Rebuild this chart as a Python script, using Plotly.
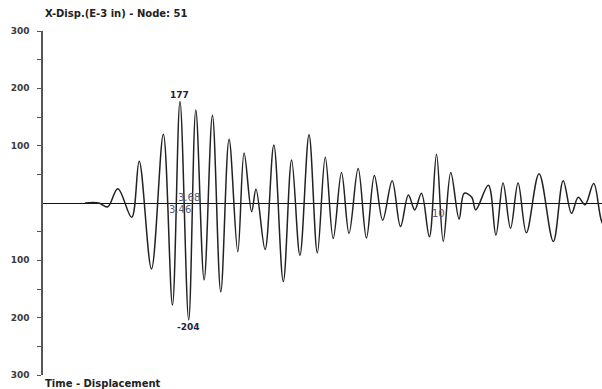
import plotly.graph_objects as go

# Displacement time history, node 51 (time in s, displacement in E-3 in)
time_s = [1.06, 1.41, 1.63, 1.89, 2.24, 2.43, 2.74, 3.04, 3.27, 3.46, 3.68,
          3.86, 4.07, 4.28, 4.49, 4.70, 4.92, 5.08, 5.27, 5.38, 5.61, 5.83,
          6.07, 6.28, 6.49, 6.72, 6.93, 7.13, 7.33, 7.54, 7.73, 7.96, 8.17,
          8.37, 8.58, 8.82, 9.03, 9.23, 9.39, 9.56, 9.76, 9.94, 10.11, 10.30,
          10.51, 10.64, 10.83, 10.93, 11.25, 11.44, 11.62, 11.81, 12.00,
          12.21, 12.53, 12.89, 13.14, 13.35, 13.52, 13.69, 13.91, 14.12, 14.25]
disp = [0, 0, -7, 25, -25, 73, -115, 120, -178, 177, -204,
        162, -134, 153, -155, 111, -85, 87, -15, 24, -81, 101,
        -137, 75, -91, 119, -87, 80, -62, 53, -53, 60, -61,
        48, -30, 39, -41, 14, -12, 17, -59, 85, -67, 53,
        -28, 17, 10, -12, 31, -56, 35, -44, 35,
        -52, 51, -67, 39, -18, 10, -3, 34, -34, -45]

y_ticks = [-300, -250, -200, -150, -100, -50, 50, 100, 150, 200, 250, 300]
y_labels = ["300", "", "200", "", "100", "", "", "100", "", "200", "", "300"]

t_max, v_max = 3.46, 177
t_min, v_min = 3.68, -204
t_mark = 10

fig = go.Figure()
fig.add_trace(go.Scatter(
    x=time_s, y=disp, mode="lines",
    line=dict(color="#222222", width=1.5, shape="spline", smoothing=1.0),
    hoverinfo="skip", showlegend=False,
))

bold = dict(family="DejaVu Sans", size=9, color="#3a3a3a", weight="bold")

fig.update_layout(
    width=602, height=389,
    margin=dict(l=43, r=0, t=31, b=14),
    paper_bgcolor="white", plot_bgcolor="white",
    xaxis=dict(range=[0, 14.12], visible=False, fixedrange=True),
    yaxis=dict(
        range=[-300, 300], showgrid=False,
        showline=True, linecolor="#555555", linewidth=1.5,
        ticks="outside", ticklen=4, tickwidth=1, tickcolor="#555555",
        tickvals=y_ticks, ticktext=y_labels, tickfont=bold,
        ticklabelstandoff=6,
        zeroline=True, zerolinecolor="#111111", zerolinewidth=1,
        fixedrange=True,
    ),
    annotations=[
        dict(text="X-Disp.(E-3 in) - Node: 51", xref="paper", yref="paper",
             x=0, y=1.052, xanchor="left", yanchor="middle", showarrow=False,
             font=dict(family="DejaVu Sans", size=10, color="#222222", weight="bold")),
        dict(text="Time - Displacement", xref="paper", yref="paper",
             x=0, y=-0.026, xanchor="left", yanchor="middle", showarrow=False,
             font=dict(family="DejaVu Sans", size=10, color="#222222", weight="bold")),
        dict(text=str(v_max), x=t_max, y=v_max, xanchor="center", yanchor="bottom",
             showarrow=False, yshift=0,
             font=dict(family="DejaVu Sans", size=9, color="#222233", weight="bold")),
        dict(text=str(v_min), x=t_min, y=v_min, xanchor="center", yanchor="top",
             showarrow=False, yshift=0,
             font=dict(family="DejaVu Sans", size=9, color="#222244", weight="bold")),
        dict(text=f"{t_min:.2f}", x=t_min, y=0, xanchor="center", yanchor="bottom",
             showarrow=False, yshift=-2,
             font=dict(family="DejaVu Sans", size=10, color="#50607a")),
        dict(text=f"{t_max:.2f}", x=t_max, y=0, xanchor="center", yanchor="top",
             showarrow=False, yshift=1,
             font=dict(family="DejaVu Sans", size=10, color="#50607a")),
        dict(text=str(t_mark), x=t_mark, y=0, xanchor="center", yanchor="top",
             showarrow=False, yshift=-3,
             font=dict(family="DejaVu Sans", size=10, color="#5b4f8f")),
    ],
)

fig.write_html("out.html")
